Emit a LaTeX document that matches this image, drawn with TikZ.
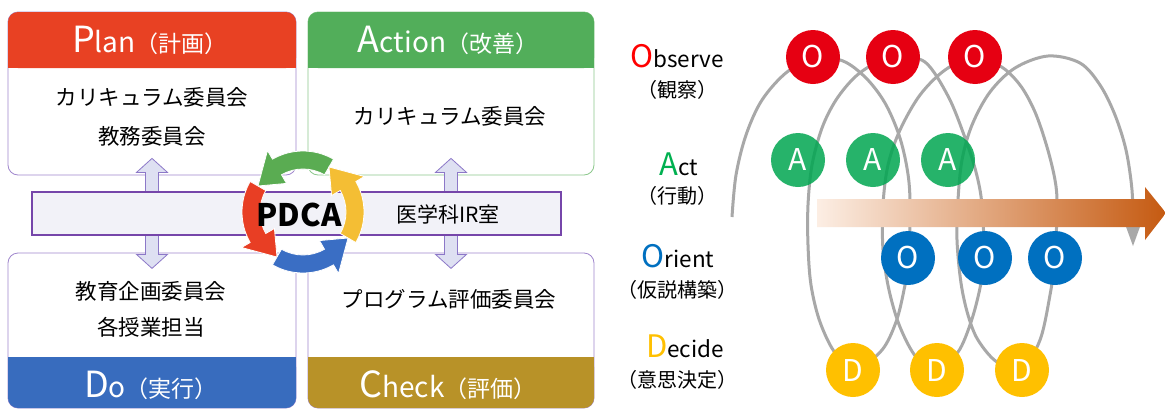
\documentclass[tikz,border=0pt]{standalone}
\usepackage{fontspec}
\setmainfont{Noto Sans CJK JP}
\newcommand\setfs[1]{\fontsize{#1}{#1}\selectfont}
\definecolor{planRed}{RGB}{232,65,35}
\definecolor{actGreen}{RGB}{82,174,90}
\definecolor{doBlue}{RGB}{56,108,190}
\definecolor{chkGold}{RGB}{184,146,40}
\definecolor{boxPurple}{RGB}{160,135,205}
\definecolor{boxGreen}{RGB}{140,200,140}
\definecolor{bandFill}{RGB}{242,242,248}
\definecolor{bandLine}{RGB}{118,70,170}
\definecolor{arrFill}{RGB}{222,224,242}
\definecolor{arrLine}{RGB}{140,120,200}
\definecolor{cycGreen}{RGB}{90,172,82}
\definecolor{cycRed}{RGB}{232,62,36}
\definecolor{cycBlue}{RGB}{58,110,196}
\definecolor{cycYellow}{RGB}{244,190,52}
\definecolor{oRed}{RGB}{230,0,18}
\definecolor{aGreen}{RGB}{0,166,81}
\definecolor{oBlue}{RGB}{0,112,192}
\definecolor{dYellow}{RGB}{255,192,0}
\definecolor{labRed}{RGB}{255,0,0}
\definecolor{labGreen}{RGB}{0,176,80}
\definecolor{spiralGray}{RGB}{168,168,168}
\definecolor{arrowDark}{RGB}{197,90,17}
\definecolor{arrowMid}{RGB}{240,180,142}
\definecolor{arrowLight}{RGB}{252,238,228}
\newcommand\pdcaarrow[3]{%
  \fill[#1, draw=white, line width=0.8pt] (#2:61) arc[start angle=#2, end angle=#3, radius=61]
    -- (#3:71) -- ({#3+30}:52) -- (#3:33) -- (#3:43)
    arc[start angle=#3, end angle=#2, radius=43] -- cycle;}
\tikzset{
  box/.style={draw=boxPurple, line width=0.8pt, fill=white, rounded corners=10pt, inner sep=0},
  hdrtext/.style={text=white, inner sep=0, anchor=base},
  bodytext/.style={font=\setfs{21.5}, inner sep=0},
  blockarrow/.style={draw=arrLine, fill=arrFill, line width=0.8pt},
  band/.style={draw=bandLine, fill=bandFill, line width=1.2pt, inner sep=0},
  ooda/.style={circle, minimum size=54, inner sep=0, text=white, font=\setfs{30}},
  spiral/.style={draw=spiralGray, line width=3pt},
  lab/.style={inner sep=0, anchor=base},
  labj/.style={inner sep=0, font=\setfs{20}}
}
\begin{document}
\begin{tikzpicture}[x=1pt,y=-1pt]
\useasboundingbox (0,0) rectangle (1165,410);
\fill[white] (0,0) rectangle (1165,410);

% ---------- PDCA boxes ----------
\node[box, minimum width=288, minimum height=163] (plan) at (152,93.5) {};
\node[box, draw=boxGreen, minimum width=286, minimum height=163] (action) at (451,93.5) {};
\node[box, minimum width=288, minimum height=155] (do) at (152,330.5) {};
\node[box, minimum width=286, minimum height=155] (check) at (451,330.5) {};

\fill[planRed, rounded corners=10pt] (8,12) rectangle (296,68);
\fill[planRed] (8,40) rectangle (296,68);
\fill[actGreen, rounded corners=10pt] (308,12) rectangle (594,68);
\fill[actGreen] (308,40) rectangle (594,68);
\fill[doBlue, rounded corners=10pt] (8,357) rectangle (296,408);
\fill[doBlue] (8,357) rectangle (296,380);
\fill[chkGold, rounded corners=10pt] (308,357) rectangle (594,408);
\fill[chkGold] (308,357) rectangle (594,380);

\node[hdrtext] (planh) at (150,52) {{\setfs{36}P}{\setfs{28}lan}{\setfs{23}（計画）}};
\node[hdrtext] (acth) at (448,52) {{\setfs{36}A}{\setfs{28}ction}{\setfs{23}（改善）}};
\node[hdrtext] (doh) at (151,397) {{\setfs{36}D}{\setfs{28}o}{\setfs{23}（実行）}};
\node[hdrtext] (chkh) at (448,397) {{\setfs{36}C}{\setfs{28}heck}{\setfs{23}（評価）}};

\node[bodytext] (plan1) at (152,97.5) {カリキュラム委員会};
\node[bodytext] (plan2) at (152,136) {教務委員会};
\node[bodytext] (act1) at (450,116) {カリキュラム委員会};
\node[bodytext] (do1) at (151,291) {教育企画委員会};
\node[bodytext] (do2) at (151,327) {各授業担当};
\node[bodytext] (chk1) at (449,299) {プログラム評価委員会};

% block double arrows (band drawn over their middle)
\draw[blockarrow] ([yshift=17pt]plan.south) -- ++(15.5,14) -- ++(-9,0) -- ++(0,82) -- ++(9,0)
  -- ++(-15.5,14) -- ++(-15.5,-14) -- ++(9,0) -- ++(0,-82) -- ++(-9,0) -- cycle;
\draw[blockarrow] ([yshift=17pt]action.south) -- ++(15.5,14) -- ++(-9,0) -- ++(0,82) -- ++(9,0)
  -- ++(-15.5,14) -- ++(-15.5,-14) -- ++(9,0) -- ++(0,-82) -- ++(-9,0) -- cycle;

\node[band, minimum width=529, minimum height=43] (ir) at (296.5,213.5) {};
\node[inner sep=0, font=\setfs{21}] (irtext) at (448,214) {医学科IR室};

% PDCA cycle
\begin{scope}[shift={(303,212)}, yscale=-1]
  \pdcaarrow{cycGreen}{60}{120}
  \pdcaarrow{cycRed}{150}{210}
  \pdcaarrow{cycBlue}{240}{300}
  \pdcaarrow{cycYellow}{330}{390}
\end{scope}
\node[inner sep=0, font=\setfs{31}\bfseries] (pdca) at (299,215) {PDCA};

% ---------- OODA ----------
\node[lab] (obs) at (677,67) {{\color{labRed}\setfs{31}O}{\setfs{22.5}bserve}};
\node[labj] (obsj) at (677,90) {（観察）};
\node[lab] (act) at (679,175) {{\color{labGreen}\setfs{31}A}{\setfs{22.5}ct}};
\node[labj] (actj) at (677,196) {（行動）};
\node[lab] (ori) at (678,267) {{\color{oBlue}\setfs{31}O}{\setfs{22.5}rient}};
\node[labj] (orij) at (677,290) {（仮説構築）};
\node[lab] (dec) at (685,357) {{\color{dYellow}\setfs{31}D}{\setfs{22.5}ecide}};
\node[labj] (decj) at (677,380) {（意思決定）};

\draw[spiral] plot[smooth, tension=0.55] coordinates {
 (732,217) (736,175) (746,135) (762,100) (787,72) (815,58) (843,61) (866,78) (885,103)
 (899,135) (907,168) (910,200) (909,258) (904,290) (896,322) (882,350) (858,367)
 (836,354) (820,322) (811,285) (808,245) (808,205) (812,165) (822,128) (836,100)
 (855,77) (876,63) (898,58) (925,62) (948,96) (964,135) (976,172) (982,205) (984,258)
 (980,288) (971,322) (958,352) (938,367) (917,358) (900,327) (889,290) (883,250)
 (883,205) (888,165) (900,130) (920,95) (945,70) (972,58) (1000,66) (1020,85)
 (1035,112) (1047,147) (1055,180) (1057,205) (1055,258) (1050,295) (1040,340)
 (1022,368) (997,362) (978,340) (968,315) (961,283) (957,240) (958,200) (962,160)
 (972,125) (990,92) (1015,68) (1048,56) (1080,63) (1100,85) (1115,115) (1126,150)
 (1132,190) (1133,226)};
\fill[spiralGray] (1125,224) -- (1141,224) -- (1133,246) -- cycle;

\shade[left color=arrowLight, middle color=arrowMid, right color=arrowDark]
  (817,199) -- (1145,199) -- (1145,187) -- (1166,213) -- (1145,240) -- (1145,227) -- (817,227) -- cycle;

\node[ooda, fill=oRed] (o1) at (813,57) {O};
\node[ooda, fill=oRed] (o2) at (893,57) {O};
\node[ooda, fill=oRed] (o3) at (975,57) {O};
\node[ooda, fill=aGreen, fill opacity=0.85, text opacity=1] (a1) at (798,160) {A};
\node[ooda, fill=aGreen, fill opacity=0.85, text opacity=1] (a2) at (873,160) {A};
\node[ooda, fill=aGreen, fill opacity=0.85, text opacity=1] (a3) at (948,160) {A};
\node[ooda, fill=oBlue] (b1) at (908,258) {O};
\node[ooda, fill=oBlue] (b2) at (985,258) {O};
\node[ooda, fill=oBlue] (b3) at (1055,258) {O};
\node[ooda, fill=dYellow] (d1) at (853,370) {D};
\node[ooda, fill=dYellow] (d2) at (937,370) {D};
\node[ooda, fill=dYellow] (d3) at (1022,370) {D};
\end{tikzpicture}
\end{document}
